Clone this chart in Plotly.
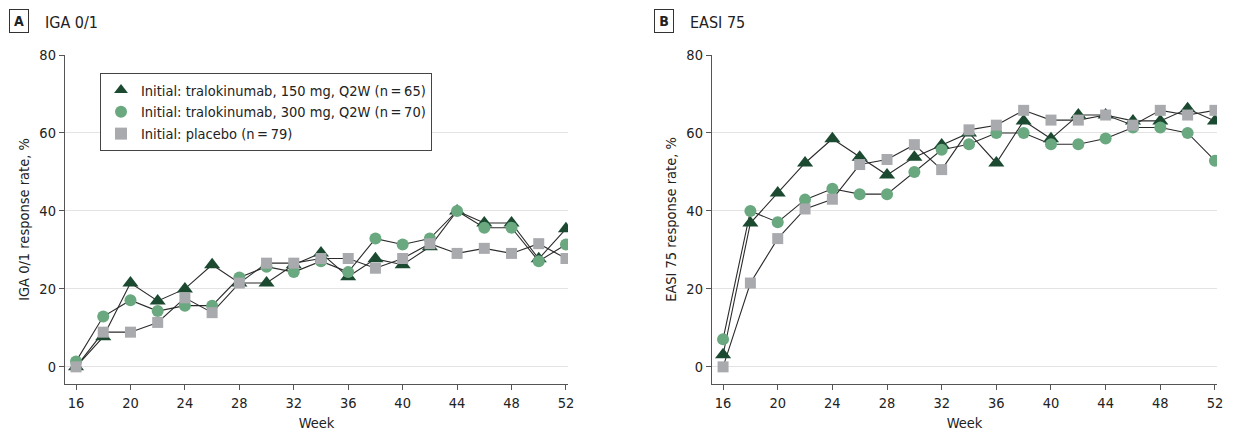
import plotly.graph_objects as go

weeks = [16, 18, 20, 22, 24, 26, 28, 30, 32, 34, 36, 38, 40, 42, 44, 46, 48, 50, 52]

iga_150 = [0.0, 7.7, 21.5, 16.9, 20.0, 26.2, 21.5, 21.5, 26.2, 29.2, 23.1, 27.7, 26.2, 30.8, 40.0, 36.9, 36.9, 27.7, 35.4]
iga_300 = [1.4, 12.9, 17.1, 14.3, 15.7, 15.7, 22.9, 25.7, 24.3, 27.1, 24.3, 32.9, 31.4, 32.9, 40.0, 35.7, 35.7, 27.1, 31.4]
iga_pbo = [0.0, 8.9, 8.9, 11.4, 17.7, 13.9, 21.5, 26.6, 26.6, 27.8, 27.8, 25.3, 27.8, 31.6, 29.1, 30.4, 29.1, 31.6, 27.8]

easi_150 = [3.1, 36.9, 44.6, 52.3, 58.5, 53.8, 49.2, 53.8, 56.9, 60.0, 52.3, 63.1, 58.5, 64.6, 64.6, 63.1, 63.1, 66.2, 63.1]
easi_300 = [7.1, 40.0, 37.1, 42.9, 45.7, 44.3, 44.3, 50.0, 55.7, 57.1, 60.0, 60.0, 57.1, 57.1, 58.6, 61.4, 61.4, 60.0, 52.9]
easi_pbo = [0.0, 21.5, 32.9, 40.5, 43.0, 51.9, 53.2, 57.0, 50.6, 60.8, 62.0, 65.8, 63.3, 63.3, 64.6, 62.0, 65.8, 64.6, 65.8]

names = ["Initial: tralokinumab, 150 mg, Q2W (n\u2009=\u200965)",
         "Initial: tralokinumab, 300 mg, Q2W (n\u2009=\u200970)",
         "Initial: placebo (n\u2009=\u200979)"]
colors = ["#1b4a31", "#6aa880", "#a9aaae"]
symbols = ["triangle-up", "circle", "square"]
sizes = [14, 12, 11]

FONT = "Liberation Sans Narrow, DejaVu Sans Condensed, Arial Narrow, sans-serif"
# page body has an 8px default margin; the figure is sized and positioned to compensate
OFF = 8
W, H = 1233 - OFF, 432 - OFF

fig = go.Figure()

panels = [("x", "y", [iga_150, iga_300, iga_pbo], True),
          ("x2", "y2", [easi_150, easi_300, easi_pbo], False)]

for xa, ya, series, legend in panels:
    for s in series:
        fig.add_trace(go.Scatter(x=weeks, y=s, mode="lines", xaxis=xa, yaxis=ya,
                                 line=dict(color="#2b2b2b", width=1.1),
                                 showlegend=False, hoverinfo="skip"))
    for i, s in enumerate(series):
        fig.add_trace(go.Scatter(x=weeks, y=s, mode="markers", xaxis=xa, yaxis=ya,
                                 name=names[i], showlegend=legend,
                                 marker=dict(symbol=symbols[i], size=sizes[i],
                                             color=colors[i], line=dict(width=0))))

def px_x(p):
    return (p - OFF) / W

def px_y(p):
    return 1 - (p - OFF) / H

xcommon = dict(range=[15.19, 52.15], tickvals=[16, 20, 24, 28, 32, 36, 40, 44, 48, 52],
               automargin=False,
               showgrid=False, zeroline=False, showline=True, linecolor="#555555",
               linewidth=1.3, ticks="outside", ticklen=5, tickcolor="#555555",
               tickfont=dict(family=FONT, size=14.5, color="#222222"),
               title=dict(text="Week", font=dict(family=FONT, size=14.5, color="#222222"), standoff=8))
ycommon = dict(range=[-4.4, 80], tickvals=[0, 20, 40, 60, 80],
               automargin=False,
               showgrid=True, gridcolor="#e3e3e3", gridwidth=1.3, zeroline=False,
               showline=True, linecolor="#555555", linewidth=1.3, ticks="outside",
               ticklen=5, tickcolor="#555555",
               tickfont=dict(family=FONT, size=14.5, color="#222222"))

ydom = [px_y(384), px_y(55)]

fig.update_layout(
    width=W, height=H, margin=dict(l=0, r=0, t=0, b=0, autoexpand=False),
    paper_bgcolor="white", plot_bgcolor="white",
    xaxis=dict(domain=[px_x(65), px_x(568)], anchor="y", **xcommon),
    yaxis=dict(domain=ydom, anchor="x",
               title=dict(text="IGA 0/1 response rate, %", font=dict(family=FONT, size=14.5, color="#222222"), standoff=6),
               **ycommon),
    xaxis2=dict(domain=[px_x(712), px_x(1217)], anchor="y2", **xcommon),
    yaxis2=dict(domain=ydom, anchor="x2",
                title=dict(text="EASI 75 response rate, %", font=dict(family=FONT, size=14.5, color="#222222"), standoff=6),
                **ycommon),
    legend=dict(x=px_x(100), y=px_y(73), xanchor="left", yanchor="top",
                bordercolor="#444444", borderwidth=1, bgcolor="white",
                font=dict(family=FONT, size=14.5, color="#222222"),
                tracegroupgap=0, itemsizing="constant", itemwidth=30),
    showlegend=True,
)

for letter, xl, title in [("A", 19, "IGA 0/1"), ("B", 664, "EASI 75")]:
    fig.add_annotation(x=px_x(xl), y=px_y(21), xref="paper", yref="paper",
                       text="<b>%s</b>" % letter, showarrow=False,
                       font=dict(family=FONT, size=14, color="#222222"),
                       bordercolor="#333333", borderwidth=1, borderpad=3,
                       xanchor="center", yanchor="middle", width=12, height=16)
    fig.add_annotation(x=px_x(xl + 24), y=px_y(22), xref="paper", yref="paper",
                       text=title, showarrow=False,
                       font=dict(family=FONT, size=16, color="#222222"),
                       xanchor="left", yanchor="middle")

fig.write_html("out.html")
